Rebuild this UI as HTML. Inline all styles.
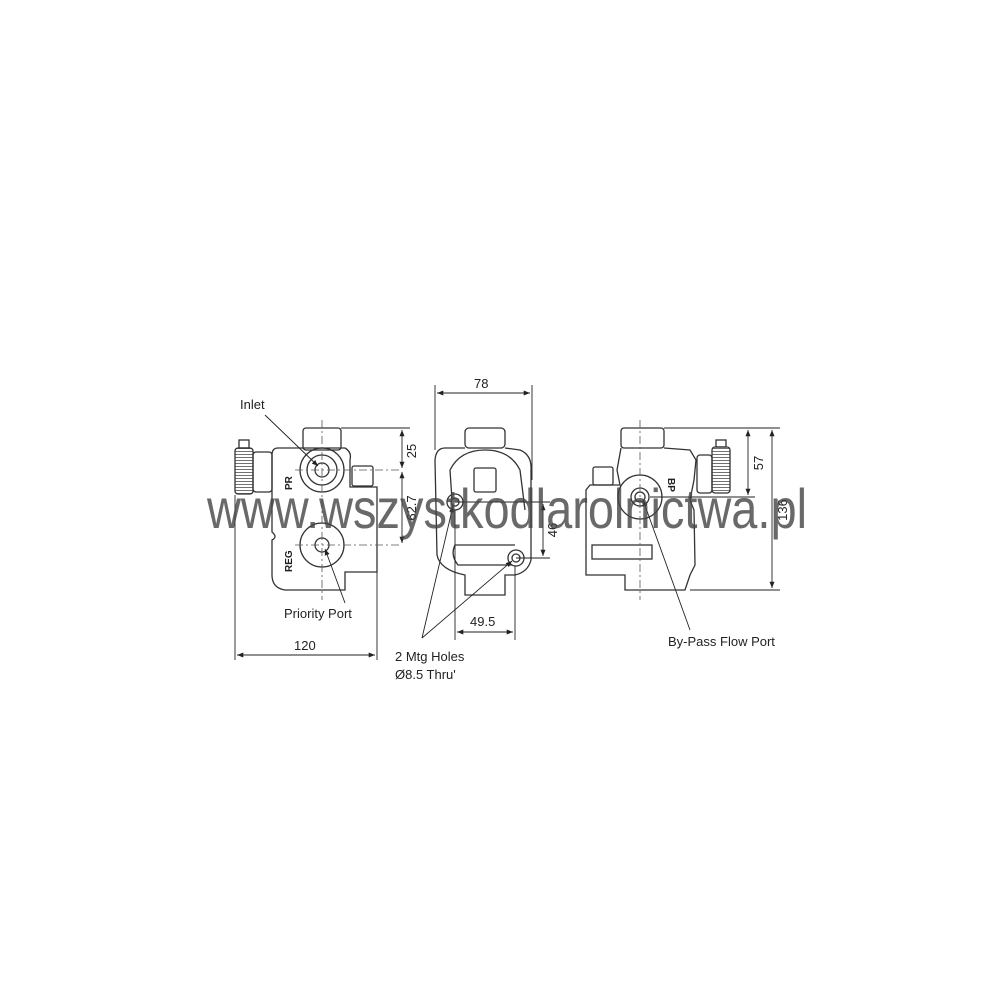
<!DOCTYPE html>
<html><head><meta charset="utf-8"><style>html,body{margin:0;padding:0;background:#fff}svg{display:block}</style></head>
<body>
<svg width="1000" height="1000" viewBox="0 0 1000 1000" xmlns="http://www.w3.org/2000/svg" font-family="Liberation Sans, sans-serif">
<defs>
<marker id="a" viewBox="0 0 10 10" refX="10" refY="5" markerWidth="7" markerHeight="7" orient="auto-start-reverse"><path d="M0,1 L10,5 L0,9 z" fill="#222"/></marker>
<pattern id="k" width="18" height="3" patternUnits="userSpaceOnUse"><line x1="0" y1="1.5" x2="18" y2="1.5" stroke="#444" stroke-width="0.8"/></pattern>
</defs>
<g fill="none" stroke="#333" stroke-width="1.3">
<!-- LEFT VIEW -->
<rect x="303" y="428" width="38" height="22" rx="3"/>
<path d="M278,448 L303,448 M341,448 L345,448 Q352,452 350,460 L350,487 L377,487 L377,572 L345,572 L345,590 L285,590 Q272,588 272,575 L272,540 Q278,537 272,532 L272,455 Q272,448 278,448 z"/>
<rect x="253" y="452" width="19" height="40" rx="3"/>
<rect x="235" y="448" width="18" height="46" rx="3" fill="url(#k)"/>
<rect x="239" y="440" width="10" height="8"/>
<circle cx="322" cy="470" r="22"/><circle cx="322" cy="470" r="15"/><circle cx="322" cy="470" r="7"/>
<circle cx="322" cy="545" r="22"/><circle cx="322" cy="545" r="7"/>
<rect x="352" y="466" width="21" height="20" rx="2"/>
<!-- MIDDLE VIEW -->
<rect x="465" y="428" width="40" height="20" rx="4"/>
<path d="M445,448 L465,448 M505,448 L520,450 Q532,455 531,470 L531,560 Q528,572 515,575 L505,575 L505,595 L465,595 L465,575 Q440,570 437,555 L435,460 Q436,448 445,448"/>
<path d="M450,470 Q460,450 485,450 Q510,450 520,470 L525,510 M450,470 L452,500"/>
<rect x="474" y="468" width="22" height="24" rx="2"/>
<path d="M455,545 Q450,555 458,565 L512,565 M455,545 L515,545"/>
<circle cx="455" cy="502" r="8"/><circle cx="455" cy="502" r="4"/>
<circle cx="516" cy="558" r="8"/><circle cx="516" cy="558" r="4"/>
<!-- RIGHT VIEW -->
<rect x="621" y="428" width="43" height="20" rx="3"/>
<path d="M621,448 L617,470 L620,485 L590,485 L586,490 L586,575 L625,575 L625,590 L685,590 L690,575 L695,565 L694,510 L690,500 L694,480 L696,460 L690,450 L664,448"/>
<rect x="697" y="455" width="15" height="38" rx="3"/>
<rect x="712" y="447" width="18" height="46" rx="3" fill="url(#k)"/>
<rect x="716" y="440" width="10" height="7"/>
<rect x="593" y="467" width="20" height="18" rx="2"/>
<rect x="592" y="545" width="60" height="14"/>
<circle cx="640" cy="497" r="22"/><circle cx="640" cy="497" r="9"/><circle cx="640" cy="497" r="5"/>
</g>
<g stroke="#555" stroke-width="0.8" stroke-dasharray="8,3,2,3" fill="none">
<line x1="322" y1="420" x2="322" y2="600"/><line x1="295" y1="470" x2="400" y2="470"/><line x1="295" y1="545" x2="400" y2="545"/>
<line x1="640" y1="420" x2="640" y2="600"/>
</g>
<g stroke="#222" stroke-width="0.9" fill="none">
<line x1="341" y1="428" x2="410" y2="428"/>
<line x1="402" y1="430" x2="402" y2="468" marker-start="url(#a)" marker-end="url(#a)"/>
<line x1="402" y1="472" x2="402" y2="543" marker-start="url(#a)" marker-end="url(#a)"/>
<line x1="235" y1="495" x2="235" y2="660"/><line x1="377" y1="572" x2="377" y2="660"/>
<line x1="237" y1="655" x2="375" y2="655" marker-start="url(#a)" marker-end="url(#a)"/>
<line x1="435" y1="385" x2="435" y2="450"/><line x1="532" y1="385" x2="532" y2="480"/>
<line x1="437" y1="393" x2="530" y2="393" marker-start="url(#a)" marker-end="url(#a)"/>
<line x1="455" y1="502" x2="550" y2="502"/><line x1="516" y1="558" x2="550" y2="558"/>
<line x1="543" y1="504" x2="543" y2="556" marker-start="url(#a)" marker-end="url(#a)"/>
<line x1="455" y1="510" x2="455" y2="640"/><line x1="515" y1="566" x2="515" y2="640"/>
<line x1="457" y1="632" x2="513" y2="632" marker-start="url(#a)" marker-end="url(#a)"/>
<line x1="664" y1="428" x2="780" y2="428"/><line x1="650" y1="497" x2="755" y2="497"/><line x1="690" y1="590" x2="780" y2="590"/>
<line x1="748" y1="430" x2="748" y2="495" marker-start="url(#a)" marker-end="url(#a)"/>
<line x1="772" y1="430" x2="772" y2="588" marker-start="url(#a)" marker-end="url(#a)"/>
<line x1="265" y1="415" x2="318" y2="466" marker-end="url(#a)"/>
<line x1="345" y1="603" x2="325" y2="549" marker-end="url(#a)"/>
<line x1="422" y1="638" x2="453" y2="506" marker-end="url(#a)"/>
<line x1="422" y1="638" x2="512" y2="561" marker-end="url(#a)"/>
<line x1="690" y1="630" x2="643" y2="500" marker-end="url(#a)"/>
</g>
<g fill="#222" font-size="13">
<text x="240" y="409">Inlet</text>
<text x="284" y="618">Priority Port</text>
<text x="294" y="650">120</text>
<text x="474" y="388">78</text>
<text x="470" y="626">49.5</text>
<text x="395" y="661">2 Mtg Holes</text>
<text x="395" y="679">Ø8.5 Thru'</text>
<text x="668" y="646">By-Pass Flow Port</text>
<text transform="translate(416,451) rotate(-90)" text-anchor="middle">25</text>
<text transform="translate(416,508) rotate(-90)" text-anchor="middle">62.7</text>
<text transform="translate(557,530) rotate(-90)" text-anchor="middle">46</text>
<text transform="translate(763,463) rotate(-90)" text-anchor="middle">57</text>
<text transform="translate(787,510) rotate(-90)" text-anchor="middle">136</text>
<text transform="translate(292,490) rotate(-90)" font-size="10" font-weight="bold">PR</text>
<text transform="translate(292,572) rotate(-90)" font-size="10" font-weight="bold">REG</text>
<text transform="translate(668,478) rotate(90)" font-size="10" font-weight="bold">BP</text>
</g>
<text x="207" y="528" font-family="Liberation Sans Narrow, Liberation Sans, sans-serif" font-size="56" fill="#444" fill-opacity="0.8" textLength="600" lengthAdjust="spacingAndGlyphs">www.wszystkodlarolnictwa.pl</text>
</svg>
</body></html>
